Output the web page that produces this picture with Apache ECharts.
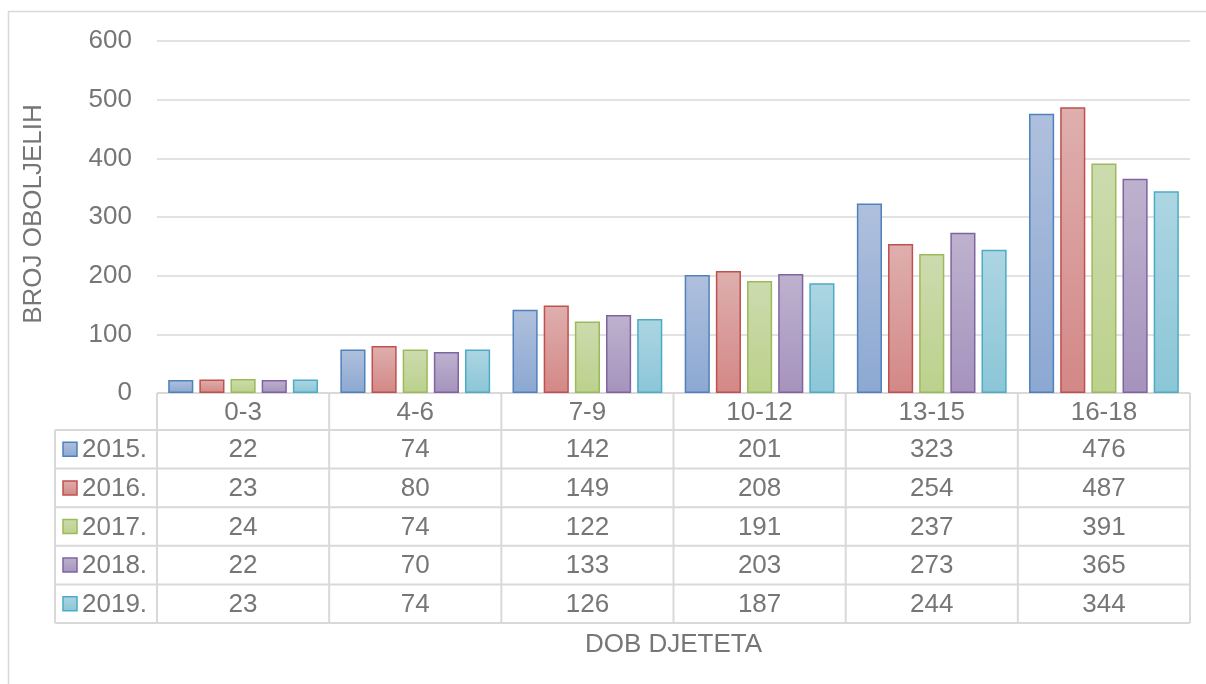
<!DOCTYPE html>
<html><head><meta charset="utf-8">
<script src="https://cdn.jsdelivr.net/npm/echarts@6/dist/echarts.min.js"></script>
<style>html,body{margin:0;padding:0;background:#fff}#c{width:1206px;height:684px}</style>
</head><body><div id="c"></div>
<script>
var categories = ['0-3', '4-6', '7-9', '10-12', '13-15', '16-18'];
var seriesNames = ['2015.', '2016.', '2017.', '2018.', '2019.'];
var v2015 = [22, 74, 142, 201, 323, 476];
var v2016 = [23, 80, 149, 208, 254, 487];
var v2017 = [24, 74, 122, 191, 237, 391];
var v2018 = [22, 70, 133, 203, 273, 365];
var v2019 = [23, 74, 126, 187, 244, 344];
var yTicks = [0, 100, 200, 300, 400, 500, 600];
var yTitle = 'BROJ OBOLJELIH';
var xTitle = 'DOB DJETETA';

var allValues = [v2015, v2016, v2017, v2018, v2019];
var borderColors = ['#4F81BD', '#C0504D', '#9BBB59', '#8064A2', '#4BACC6'];
var topColors = ['#AFC0DD', '#DEAFAE', '#CCDBAE', '#BDB2CE', '#ADD5E2'];
var botColors = ['#8CA8D2', '#D38886', '#BCD18C', '#A693BD', '#8BC6D7'];
var textColor = '#767676';
var lineColor = '#D9D9D9';
var FONT = 'Liberation Sans, Arial, sans-serif';
var FS = 26;

function grad(i) {
  return new echarts.graphic.LinearGradient(0, 0, 0, 1, [
    {offset: 0, color: topColors[i]}, {offset: 1, color: botColors[i]}]);
}

var chart = echarts.init(document.getElementById('c'), null, {renderer: 'canvas'});
var G = {left: 157, right: 16, top: 41, bottom: 291};

var series = seriesNames.map(function (n, i) {
  return {
    name: n, type: 'bar', data: allValues[i],
    barGap: '24%', barCategoryGap: '13%',
    itemStyle: {color: grad(i), borderColor: borderColors[i], borderWidth: 1.5},
    emphasis: {disabled: true}
  };
});

chart.setOption({
  animation: false,
  grid: G,
  xAxis: {
    type: 'category', data: categories,
    axisLine: {show: false}, axisTick: {show: false}, axisLabel: {show: false}
  },
  yAxis: {
    type: 'value', min: yTicks[0], max: yTicks[yTicks.length - 1], interval: yTicks[1] - yTicks[0],
    axisLine: {show: false}, axisTick: {show: false},
    axisLabel: {color: textColor, fontSize: FS, fontFamily: FONT, margin: 25},
    splitLine: {lineStyle: {color: lineColor, width: 1.5}}
  },
  series: series
});

// Build data table below the plot from the arrays
var W = 1206, H = 684;
var plotL = G.left, plotR = W - G.right, plotB = H - G.bottom;
var catW = (plotR - plotL) / categories.length;
var headerH = 37, rowH = 38.6;
var tableL = 55;
var els = [];
// outer chart border (top & left visible)
els.push({type: 'rect', shape: {x: 8.5, y: 11.5, width: 1300, height: 800}, style: {fill: 'none', stroke: lineColor, lineWidth: 1.5}, silent: true});

var tableBottom = plotB + headerH + rowH * seriesNames.length;
els.push({type: 'line', shape: {x1: plotL, y1: plotB, x2: plotR, y2: plotB}, style: {stroke: lineColor, lineWidth: 2}});
for (var r = 0; r <= seriesNames.length; r++) {
  var y = plotB + headerH + rowH * r;
  els.push({type: 'line', shape: {x1: tableL, y1: y, x2: plotR, y2: y}, style: {stroke: lineColor, lineWidth: 2}});
}
els.push({type: 'line', shape: {x1: tableL, y1: plotB + headerH, x2: tableL, y2: tableBottom}, style: {stroke: lineColor, lineWidth: 2}});
for (var c = 0; c <= categories.length; c++) {
  var x = plotL + catW * c;
  els.push({type: 'line', shape: {x1: x, y1: plotB, x2: x, y2: tableBottom}, style: {stroke: lineColor, lineWidth: 2}});
}
categories.forEach(function (cat) {
  var cx = chart.convertToPixel({xAxisIndex: 0}, cat);
  els.push({type: 'text', x: cx, y: plotB + headerH / 2 + 1, style: {text: cat, fill: textColor, font: FS + 'px ' + FONT, align: 'center', verticalAlign: 'middle'}});
});
seriesNames.forEach(function (n, si) {
  var cy = plotB + headerH + rowH * si + rowH / 2 + 1;
  els.push({type: 'rect', shape: {x: 63, y: cy - 8, width: 14, height: 14}, style: {fill: grad(si), stroke: borderColors[si], lineWidth: 1.5}});
  els.push({type: 'text', x: 82, y: cy, style: {text: n, fill: textColor, font: FS + 'px ' + FONT, align: 'left', verticalAlign: 'middle'}});
  categories.forEach(function (cat, ci) {
    var cx = chart.convertToPixel({xAxisIndex: 0}, cat);
    els.push({type: 'text', x: cx, y: cy, style: {text: String(allValues[si][ci]), fill: textColor, font: FS + 'px ' + FONT, align: 'center', verticalAlign: 'middle'}});
  });
});
els.push({type: 'text', x: 34, y: 214, rotation: Math.PI / 2, style: {text: yTitle, fill: textColor, font: FS + 'px ' + FONT, align: 'center', verticalAlign: 'middle'}});
els.push({type: 'text', x: (plotL + plotR) / 2, y: 645, style: {text: xTitle, fill: textColor, font: FS + 'px ' + FONT, align: 'center', verticalAlign: 'middle'}});

chart.setOption({graphic: {elements: els}});
</script>
</body></html>
